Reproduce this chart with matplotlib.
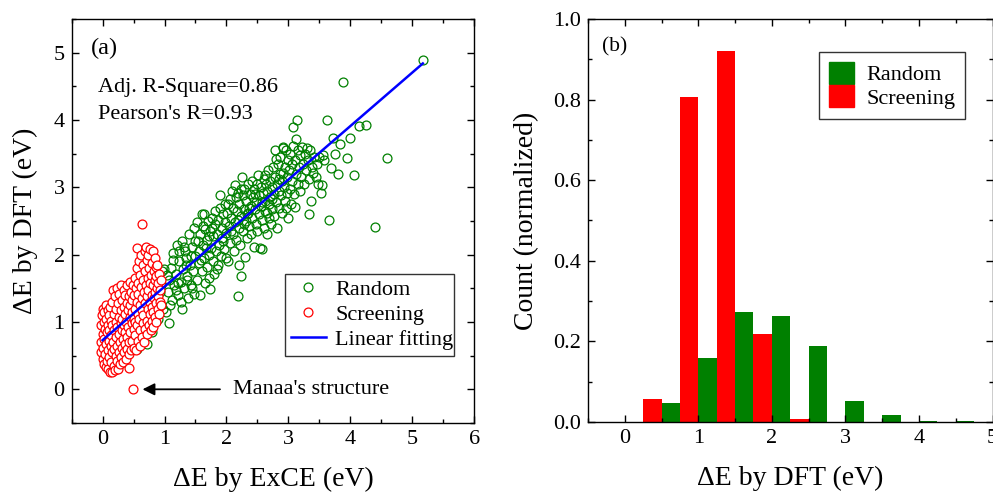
import matplotlib
matplotlib.use("Agg")
import matplotlib.pyplot as plt
from matplotlib.patches import Patch
from matplotlib.lines import Line2D
from matplotlib.ticker import MultipleLocator, FormatStrFormatter

plt.rcParams['font.family'] = ['Liberation Serif', 'DejaVu Serif']
plt.rcParams['mathtext.fontset'] = 'stix'
plt.rcParams['axes.linewidth'] = 1.0

# ---------------- data: panel (a) ----------------
random_pts = [
    (0.55,0.60),(0.62,0.75),(0.70,0.95),(0.78,1.10),(0.85,1.30),(0.92,1.45),(0.96,1.75),(0.88,1.62),
    (0.98,1.20),(0.95,1.55),(0.99,1.78),(0.90,1.05),(0.72,0.68),(0.80,0.85),
    (1.02,1.15),(1.05,1.45),(1.07,0.99),(1.08,1.62),(1.10,1.80),(1.12,1.32),(1.14,2.02),(1.16,1.55),
    (1.18,1.72),(1.20,2.14),(1.22,1.40),(1.24,1.90),(1.26,1.60),(1.28,2.20),(1.29,1.19),(1.30,1.78),
    (1.32,1.50),(1.33,2.05),(1.35,1.95),(1.36,1.68),(1.38,1.35),(1.40,2.30),(1.41,1.85),(1.43,1.55),
    (1.44,2.12),(1.46,1.75),(1.47,2.40),(1.48,1.42),(1.49,1.98),(1.50,2.20),
    (1.04,1.70),(1.09,1.25),(1.13,1.92),(1.19,1.48),(1.23,2.05),(1.27,1.30),(1.31,2.12),(1.37,1.62),
    (1.42,1.98),(1.45,1.50),(1.34,1.85),(1.21,1.58),
    (1.52,1.62),(1.53,2.48),(1.55,1.88),(1.56,2.05),(1.57,1.40),(1.58,2.30),(1.60,1.75),(1.61,2.60),
    (1.62,2.15),(1.63,1.95),(1.64,2.61),(1.65,1.58),(1.66,2.38),(1.68,1.82),(1.69,2.22),(1.70,2.50),
    (1.71,1.65),(1.72,2.00),(1.73,1.49),(1.74,2.35),(1.75,2.10),(1.76,2.55),(1.78,1.90),(1.79,2.28),
    (1.80,1.72),(1.81,2.45),(1.82,2.65),(1.83,2.05),(1.85,2.30),(1.86,1.85),(1.87,2.52),(1.88,2.15),
    (1.89,2.88),(1.90,2.70),(1.91,1.98),(1.92,2.40),(1.93,2.25),(1.94,2.60),(1.96,2.08),(1.97,2.48),
    (1.98,2.75),(1.99,2.32),
    (1.54,2.20),(1.59,1.92),(1.67,2.10),(1.77,2.40),(1.84,1.78),(1.95,2.20),(1.62,2.42),(1.72,2.28),
    (2.00,1.95),(2.01,2.62),(2.03,1.91),(2.04,2.42),(2.05,2.82),(2.06,2.18),(2.08,2.55),(2.09,2.95),
    (2.10,2.30),(2.11,2.70),(2.12,2.05),(2.13,3.03),(2.14,2.48),(2.15,2.85),(2.16,2.22),(2.17,2.65),
    (2.18,1.39),(2.19,2.92),(2.20,1.84),(2.20,2.40),(2.21,2.75),(2.22,2.15),(2.23,2.58),(2.24,1.69),
    (2.25,3.15),(2.26,2.88),(2.27,2.35),(2.28,2.68),(2.29,2.98),(2.30,1.96),(2.31,2.50),(2.32,2.80),
    (2.33,2.25),(2.34,3.05),(2.35,2.62),(2.36,2.42),(2.38,2.90),(2.39,2.72),(2.40,2.30),(2.41,3.10),
    (2.42,2.55),(2.43,2.85),(2.44,2.12),(2.45,2.98),(2.46,2.68),(2.47,2.45),(2.48,2.78),(2.49,3.05),
    (2.50,2.35),
    (2.07,2.35),(2.18,2.52),(2.28,2.45),(2.37,2.70),(2.46,2.90),(2.02,2.75),(2.24,2.98),(2.33,2.60),
    (2.51,3.19),(2.52,2.60),(2.53,2.88),(2.54,2.10),(2.55,2.72),(2.56,3.00),(2.57,2.09),(2.58,2.52),
    (2.59,2.92),(2.60,3.12),(2.61,2.40),(2.62,2.80),(2.63,2.65),(2.64,3.05),(2.65,2.30),(2.66,2.95),
    (2.67,3.25),(2.68,2.75),(2.69,2.55),(2.70,3.10),(2.71,2.85),(2.72,2.45),(2.73,3.00),(2.74,2.68),
    (2.75,3.30),(2.76,2.90),(2.77,2.58),(2.78,3.15),(2.79,3.55),(2.80,2.78),(2.81,3.05),(2.82,2.40),
    (2.83,3.35),(2.84,2.95),(2.85,2.70),(2.86,3.20),(2.87,3.45),(2.88,2.88),(2.89,3.10),(2.90,2.62),
    (2.91,3.58),(2.92,3.60),(2.93,3.00),(2.94,2.80),(2.95,3.30),(2.96,3.55),(2.97,3.15),(2.98,2.92),
    (2.99,3.40),(3.00,2.55),
    (2.57,2.78),(2.66,2.62),(2.73,2.82),(2.84,3.12),(2.92,3.22),(2.62,3.18),(2.80,3.42),(2.96,2.70),
    (3.01,3.25),(3.02,2.98),(3.03,3.50),(3.04,2.75),(3.05,3.35),(3.06,3.10),(3.07,3.89),(3.08,3.62),
    (3.09,2.90),(3.10,3.40),(3.11,2.71),(3.12,3.72),(3.13,3.20),(3.14,4.00),(3.15,3.05),(3.16,3.55),
    (3.17,3.30),(3.18,2.95),(3.19,3.48),(3.20,3.15),(3.22,3.60),(3.23,3.35),(3.25,3.05),(3.26,3.50),
    (3.28,3.25),(3.30,3.58),(3.31,3.40),(3.33,3.12),(3.34,2.60),(3.35,3.55),(3.36,2.80),(3.38,3.30),
    (3.40,3.22),(3.42,3.45),(3.44,3.15),(3.46,3.35),(3.48,3.05),(3.50,3.45),(3.52,2.91),(3.55,3.03),
    (3.56,3.48),(3.58,3.40),
    (3.63,4.00),(3.65,2.52),(3.69,3.29),(3.72,3.73),(3.76,3.50),(3.80,3.20),(3.83,3.65),(3.88,4.57),
    (3.94,3.43),(4.00,3.73),(4.06,3.19),(4.14,3.91),(4.25,3.92),(4.39,2.41),(4.59,3.43),(5.17,4.89),
]

screening_pts = [
    (-0.03,0.55),(-0.02,0.70),(-0.02,0.95),(-0.01,1.10),(0.00,0.45),(0.00,0.82),(0.01,1.20),(0.01,0.62),
    (0.02,0.38),(0.02,1.00),(0.03,0.75),(0.03,1.15),(0.04,0.52),(0.04,0.90),(0.05,0.33),(0.05,1.25),
    (0.06,0.68),(0.06,1.05),(0.07,0.42),(0.07,0.85),(0.08,1.18),(0.08,0.58),(0.09,0.95),(0.09,0.30),
    (0.10,0.72),(0.10,1.10),
    (0.11,0.48),(0.11,0.88),(0.12,1.22),(0.12,0.26),(0.13,0.65),(0.13,1.02),(0.14,0.40),(0.14,0.80),
    (0.15,1.30),(0.15,0.55),(0.16,0.25),(0.16,0.95),(0.17,1.48),(0.17,0.70),(0.18,0.35),(0.18,1.12),
    (0.19,0.60),(0.19,0.88),(0.20,1.38),(0.20,0.28),(0.21,0.50),(0.21,1.00),(0.22,0.78),(0.22,1.20),
    (0.23,0.42),(0.23,1.50),(0.24,0.65),(0.24,0.92),(0.25,1.28),(0.25,0.30),(0.26,0.55),(0.26,1.08),
    (0.27,0.82),(0.27,1.42),(0.28,0.38),(0.28,0.70),(0.29,1.18),(0.29,0.98),(0.30,0.48),(0.30,1.55),
    (0.31,0.62),(0.31,0.88),(0.32,1.32),(0.32,1.05),(0.33,0.40),(0.33,0.75),(0.34,1.22),(0.34,1.48),
    (0.35,0.55),(0.35,0.95),(0.36,1.12),(0.36,0.68),(0.37,1.40),(0.37,0.85),(0.38,0.45),(0.38,1.00),
    (0.39,1.28),(0.39,0.60),(0.40,1.55),(0.40,0.78),(0.41,0.92),(0.41,1.18),(0.42,0.52),(0.42,1.38),
    (0.43,0.32),(0.43,0.70),(0.44,1.08),(0.44,1.60),(0.45,0.85),(0.45,1.25),(0.46,0.58),(0.46,1.45),
    (0.47,0.98),(0.47,1.15),(0.48,0.72),(0.48,1.32),(0.49,0.00),(0.49,1.55),(0.50,0.90),(0.50,1.05),
    (0.51,0.62),(0.51,1.40),(0.52,1.20),(0.52,1.65),(0.53,0.80),(0.53,1.00),(0.54,1.50),(0.54,0.58),
    (0.55,1.30),(0.55,1.80),(0.56,2.10),(0.56,0.95),(0.57,1.12),(0.57,1.58),(0.58,0.72),(0.58,1.42),
    (0.59,1.90),(0.59,1.05),(0.60,1.25),(0.60,0.65),(0.61,1.70),(0.61,0.88),(0.62,1.52),(0.62,2.00),
    (0.63,1.18),(0.63,0.78),(0.64,2.45),(0.64,1.35),(0.65,1.62),(0.65,0.98),(0.66,1.85),(0.66,1.10),
    (0.67,0.70),(0.67,1.45),(0.68,2.05),(0.68,1.28),(0.69,1.75),(0.69,0.90),(0.70,2.12),(0.70,1.55),
    (0.71,1.02),(0.71,1.38),(0.72,1.92),(0.72,0.82),(0.73,1.65),(0.73,1.20),(0.74,1.48),(0.74,2.00),
    (0.75,0.95),(0.75,1.80),(0.76,1.30),(0.76,1.12),(0.77,1.58),(0.77,2.08),(0.78,0.88),(0.78,1.70),
    (0.79,1.40),(0.79,1.02),(0.80,1.88),(0.80,1.22),(0.81,1.55),(0.81,2.05),(0.82,1.15),(0.82,0.92),
    (0.83,1.75),(0.83,1.35),(0.84,1.62),(0.84,1.95),(0.85,1.08),(0.85,1.45),(0.86,1.82),(0.86,1.28),
    (0.87,1.00),(0.87,1.68),(0.88,1.50),(0.88,1.85),(0.89,1.20),(0.89,1.38),(0.90,1.58),(0.91,1.12),
    (0.91,1.72),(0.92,1.30),(0.93,1.48),(0.94,1.62),(0.95,1.25),
]

fit_x = [0.0, 5.17]
fit_y = [0.73, 4.84]

# ---------------- data: panel (b) ----------------
bin_centers = [0.5, 1.0, 1.5, 2.0, 2.5, 3.0, 3.5, 4.0, 4.5]
screening_counts = [0.056, 0.806, 0.920, 0.218, 0.008, 0.0, 0.0, 0.0, 0.0]
random_counts = [0.047, 0.158, 0.272, 0.263, 0.188, 0.053, 0.017, 0.002, 0.002]

GREEN = '#008000'
RED = '#ff0000'
BLUE = '#0000ff'

fig = plt.figure(figsize=(9.93, 4.95), dpi=100)

# ---------------- panel (a) ----------------
ax1 = fig.add_axes([0.0721, 0.1455, 0.4055, 0.8161])
rx = [p[0] for p in random_pts]
ry = [p[1] for p in random_pts]
sx = [p[0] for p in screening_pts]
sy = [p[1] for p in screening_pts]
MS = 6.4
ax1.plot(rx, ry, 'o', ms=MS, mfc='none', mec=GREEN, mew=0.9, ls='none')
ax1.plot(sx, sy, 'o', ms=MS, mfc='white', mec=RED, mew=0.9, ls='none')
ax1.plot(fit_x, fit_y, '-', color=BLUE, lw=1.8)
ax1.set_xlim(-0.5, 6)
ax1.set_ylim(-0.5, 5.5)
ax1.xaxis.set_major_locator(MultipleLocator(1))
ax1.xaxis.set_minor_locator(MultipleLocator(0.5))
ax1.yaxis.set_major_locator(MultipleLocator(1))
ax1.yaxis.set_minor_locator(MultipleLocator(0.5))
ax1.tick_params(which='both', direction='in', top=True, right=True, labelsize=16, width=1.0)
ax1.tick_params(which='major', length=5, pad=5)
ax1.tick_params(which='minor', length=3)
ax1.set_xlabel('ΔE by ExCE (eV)', fontsize=20, labelpad=13)
ax1.set_ylabel('ΔE by DFT (eV)', fontsize=20, labelpad=11)
ax1.text(-0.19, 5.07, '(a)', fontsize=17.5, va='center', ha='left')
ax1.text(-0.07, 4.49, 'Adj. R-Square=0.86', fontsize=16, va='center', ha='left')
ax1.text(-0.07, 4.08, "Pearson's R=0.93", fontsize=16, va='center', ha='left')
ax1.annotate('', xy=(0.6, 0.0), xytext=(1.94, 0.0),
             arrowprops=dict(arrowstyle='-|>', color='black', lw=1.3, mutation_scale=18))
ax1.text(2.1, 0.0, "Manaa's structure", fontsize=16, va='center', ha='left')
h_rand = Line2D([], [], marker='o', ms=MS, mfc='none', mec=GREEN, mew=0.9, ls='none')
h_scr = Line2D([], [], marker='o', ms=MS, mfc='none', mec=RED, mew=0.9, ls='none')
h_fit = Line2D([], [], color=BLUE, lw=1.8)
leg1 = ax1.legend([h_rand, h_scr, h_fit], ['Random', 'Screening', 'Linear fitting'],
                  loc='lower left', bbox_to_anchor=(0.53, 0.167, 0.42, 0.23), mode='expand',
                  fontsize=16, frameon=True, fancybox=False, edgecolor='black',
                  handlelength=1.6, handletextpad=0.4, borderpad=0.25, labelspacing=0.2,
                  borderaxespad=0)
leg1.get_frame().set_linewidth(1.0)

# ---------------- panel (b) ----------------
ax2 = fig.add_axes([0.5921, 0.1475, 0.4074, 0.8141])
w = 0.25
ax2.bar([c - w / 2 for c in bin_centers], screening_counts, width=w, color=RED)
ax2.bar([c + w / 2 for c in bin_centers], random_counts, width=w, color=GREEN)
ax2.set_xlim(-0.5, 5)
ax2.set_ylim(0, 1.0)
ax2.xaxis.set_major_locator(MultipleLocator(1))
ax2.xaxis.set_minor_locator(MultipleLocator(0.5))
ax2.yaxis.set_major_locator(MultipleLocator(0.2))
ax2.yaxis.set_minor_locator(MultipleLocator(0.1))
ax2.yaxis.set_major_formatter(FormatStrFormatter('%.1f'))
ax2.tick_params(which='both', direction='in', top=True, right=True, labelsize=16, width=1.0)
ax2.tick_params(which='major', length=5, pad=5)
ax2.tick_params(which='minor', length=3)
ax2.set_xlabel('ΔE by DFT (eV)', fontsize=20, labelpad=13)
ax2.set_ylabel('Count (normalized)', fontsize=20, labelpad=10)
ax2.text(-0.31, 0.93, '(b)', fontsize=15.5, va='center', ha='left')
leg2 = ax2.legend([Patch(color=GREEN), Patch(color=RED)], ['Random', 'Screening'],
                  loc='lower left', bbox_to_anchor=(0.572, 0.752, 0.361, 0.189), mode='expand',
                  fontsize=16, frameon=True, fancybox=False, edgecolor='black',
                  handlelength=1.1, handleheight=1.15, handletextpad=0.55, labelspacing=0.0,
                  borderpad=0.45, borderaxespad=0)
leg2.get_frame().set_linewidth(1.0)

fig.savefig('out.png', dpi=100)
